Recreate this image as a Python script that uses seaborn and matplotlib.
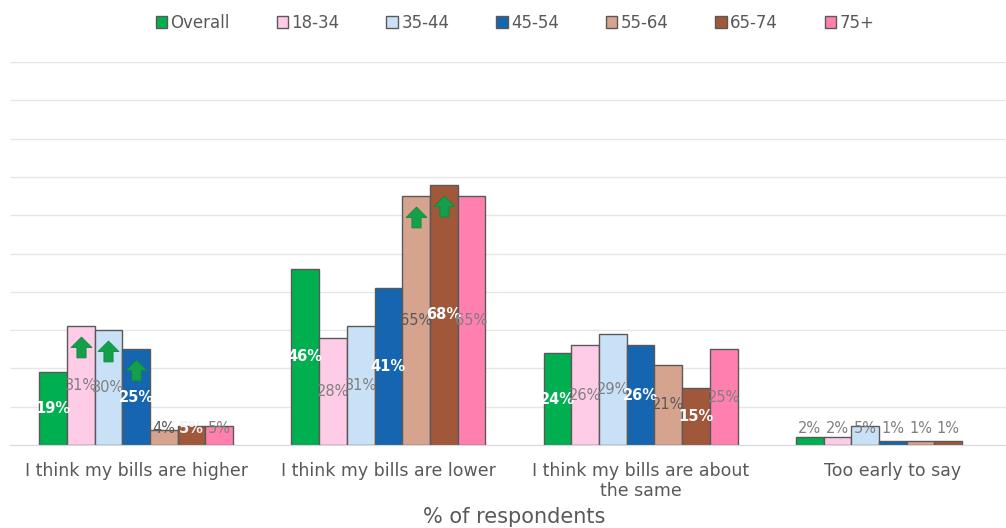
import numpy as np
import pandas as pd
import matplotlib
matplotlib.use("Agg")
import matplotlib.pyplot as plt
from matplotlib.path import Path
import seaborn as sns

# Data
categories = ["I think my bills are higher", "I think my bills are lower",
              "I think my bills are about\nthe same", "Too early to say"]
groups = ["Overall", "18-34", "35-44", "45-54", "55-64", "65-74", "75+"]
overall = [19, 46, 24, 2]
age_18_34 = [31, 28, 26, 2]
age_35_44 = [30, 31, 29, 5]
age_45_54 = [25, 41, 26, 1]
age_55_64 = [4, 65, 21, 1]
age_65_74 = [5, 68, 15, 1]
age_75_plus = [5, 65, 25, np.nan]

# bars flagged with a green "up" arrow: (category index, group)
up_arrows = [(0, "18-34"), (0, "35-44"), (0, "45-54"), (1, "55-64"), (1, "65-74")]

colors = ["#00B050", "#FFCCE8", "#C9E1F7", "#1565B0", "#D6A38F", "#A0573A", "#FF80AE"]
label_colors = ["white", "#7F7F7F", "#7F7F7F", "white", "#595959", "white", "#7F7F7F"]

series = [overall, age_18_34, age_35_44, age_45_54, age_55_64, age_65_74, age_75_plus]
rows = []
for g, vals in zip(groups, series):
    for c, v in zip(categories, vals):
        rows.append({"category": c, "group": g, "value": v})
df = pd.DataFrame(rows)

sns.set_style("white")
fig = plt.figure(figsize=(10.06, 5.28), dpi=100)
ax = fig.add_axes([10 / 1006, 83 / 528, 1009 / 1006, 383 / 528])

sns.barplot(data=df, x="category", y="value", hue="group", hue_order=groups,
            order=categories, palette=colors, saturation=1, width=0.77,
            edgecolor="#595959", linewidth=1, errorbar=None, legend=True, ax=ax)

ax.set_ylim(0, 100)
ax.set_xlim(-0.5, 3.5)
ax.set_yticks(np.arange(0, 101, 10))
ax.set_yticklabels([])
ax.tick_params(axis="y", length=0)
ax.tick_params(axis="x", length=0, labelsize=12.5, labelcolor="#595959", pad=12)
ax.grid(axis="y", color="#E6E6E6", linewidth=1)
ax.set_axisbelow(True)
for side in ["top", "right", "left"]:
    ax.spines[side].set_visible(False)
ax.spines["bottom"].set_color("#D9D9D9")
ax.set_ylabel("")
ax.set_xlabel("% of respondents", fontsize=15, color="#595959", labelpad=5)

# arrow marker
arrow = Path([(-0.22, -0.5), (0.22, -0.5), (0.22, 0.0), (0.5, 0.0), (0.0, 0.5),
              (-0.5, 0.0), (-0.22, 0.0), (-0.22, -0.5)])

for gi, cont in enumerate(ax.containers):
    g = groups[gi]
    for bar in cont:
        h = bar.get_height()
        if np.isnan(h):
            continue
        x = bar.get_x() + bar.get_width() / 2
        ci = int(round(x))
        y = max(h / 2, 4.2)
        col = label_colors[gi] if ci != 3 else "#7F7F7F"
        if h < 8 and col == "white":
            col = "#F2F2F2" if ci == 0 else "#7F7F7F"
        weight = "bold" if col in ("white", "#F2F2F2") else "normal"
        ax.text(x, y, f"{int(h)}%", ha="center", va="center", fontsize=10.5,
                fontweight=weight, color=col)
        if (ci, g) in up_arrows:
            ax.plot([x], [h - 5.5], marker=arrow, markersize=15, color="#14A04A",
                    markeredgecolor="#0E8A3C", markeredgewidth=0.6, linestyle="none")

handles, labels = ax.get_legend_handles_labels()
ax.legend_.remove()
fig.legend(handles, labels, loc="center", bbox_to_anchor=(0.512, 1 - 23 / 528), ncol=7,
           frameon=False, fontsize=12, handlelength=0.7, handleheight=0.7,
           handletextpad=0.2, columnspacing=2.8, labelcolor="#595959")

fig.savefig("out.png", dpi=100)
